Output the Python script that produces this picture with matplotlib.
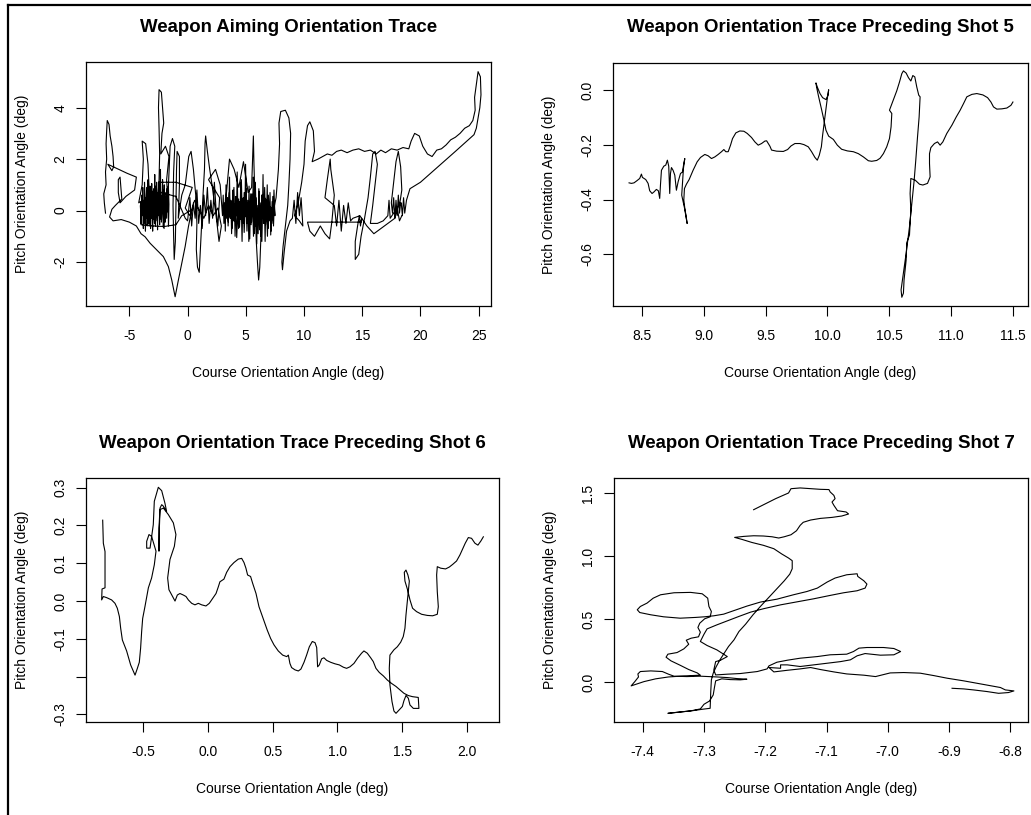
import numpy as np
import matplotlib
matplotlib.use("Agg")
import matplotlib.pyplot as plt
from matplotlib.lines import Line2D

plt.rcParams['font.family'] = ['Liberation Sans', 'DejaVu Sans']
plt.rcParams['axes.unicode_minus'] = False

W, H = 1031, 815

# ---- traces: (course deg, pitch deg) in sample order ----

# whole aiming session
aim_trace = [
    # left edge, first drift
    (-7.05, -0.10), (-7.15, 0.30), (-7.20, 0.65), (-7.00, 1.00), (-7.05, 1.50), (-6.95, 2.00),
    (-7.00, 2.60), (-6.95, 3.10), (-6.90, 3.50), (-6.75, 3.35), (-6.65, 2.90), (-6.50, 2.50),
    (-6.40, 2.10), (-6.35, 1.70), (-6.50, 1.55), (-6.85, 1.80), (-6.00, 1.62), (-5.20, 1.45),
    (-4.40, 1.30), (-4.55, 0.80), (-5.30, 0.55), (-5.80, 0.30), (-5.95, 0.70), (-5.95, 1.20),
    (-5.80, 1.30), (-5.65, 0.45), (-6.20, 0.20), (-6.50, 0.05), (-6.70, -0.25), (-6.40, -0.40),
    (-5.70, -0.35), (-5.00, -0.45), (-4.40, -0.60), (-4.00, -0.90), (-3.65, -1.02),
    # drop and recovery
    (-3.22, -1.27), (-2.65, -1.53), (-2.08, -1.79), (-1.65, -2.18), (-1.36, -2.70), (-1.07, -3.35),
    (-0.79, -2.70), (-0.50, -2.05), (-0.21, -1.40), (0.07, -0.63), (0.36, 0.03),
    (-0.50, -0.20), (-1.00, -0.55), (-2.00, -0.62), (-3.00, -0.60), (-4.00, -0.55),
    # dense jitter, first aim point
    (-4.05, 0.20), (-4.00, -0.50), (-3.95, 0.60), (-3.90, -0.20), (-3.85, 0.90), (-3.80, -0.70),
    (-3.78, 0.30), (-3.72, -0.40), (-3.70, 1.10), (-3.65, 0.00), (-3.62, -0.80), (-3.58, 0.50),
    (-3.55, -0.30), (-3.50, 0.80), (-3.47, -0.60), (-3.42, 0.20), (-3.40, 1.20), (-3.36, 0.40),
    (-3.33, -0.50), (-3.30, 0.70), (-3.26, -0.10), (-3.22, 0.95), (-3.18, -0.70), (-3.15, 0.35),
    (-3.12, -0.25), (-3.08, 1.05), (-3.05, 0.10), (-3.00, -0.80), (-2.96, 0.55), (-2.93, -0.35),
    (-2.90, 0.85), (-2.86, 0.00), (-2.82, 1.40), (-2.80, 0.20), (-2.76, -0.60), (-2.72, 0.65),
    (-2.70, -0.15), (-2.66, 1.10), (-2.62, 0.30), (-2.58, -0.75), (-2.55, 0.45), (-2.52, -0.20),
    (-2.48, 0.90), (-2.45, 0.05), (-2.40, -0.55), (-2.36, 0.75), (-2.33, 1.60), (-2.30, 0.40),
    (-2.26, -0.35), (-2.22, 0.60), (-2.18, -0.10), (-2.15, 1.20), (-2.12, 0.15), (-2.08, -0.65),
    (-2.05, 0.50), (-2.00, 1.00), (-1.96, 0.00), (-1.92, -0.45), (-1.88, 0.70), (-1.84, 0.20),
    (-1.80, -0.30), (-1.76, 0.85), (-1.72, -0.05), (-1.68, 0.40), (-1.64, -0.60), (-1.60, 0.25),
    (-1.65, 0.95), (-1.72, 0.10), (-1.80, 0.60), (-1.88, -0.20), (-1.95, 0.35), (-2.02, -0.70),
    (-2.10, 0.80), (-2.18, 0.05), (-2.25, -0.45), (-2.32, 0.55), (-2.40, 1.00), (-2.48, -0.10),
    (-2.55, 0.70), (-2.62, -0.40), (-2.70, 0.30), (-2.78, 0.95), (-2.85, -0.50), (-2.92, 0.15),
    (-3.00, 0.75), (-3.08, -0.30), (-3.15, 0.60), (-3.22, 0.05), (-3.30, -0.60), (-3.38, 0.45),
    (-3.45, -0.15), (-3.52, 0.90), (-3.60, 0.10), (-3.68, -0.50), (-3.75, 0.40), (-3.82, -0.10),
    (-3.90, 0.55), (-3.98, -0.30), (-4.05, 0.35),
    # excursions around the first aim point
    (-4.20, 0.30), (-3.90, 1.00), (-3.80, 2.00), (-3.90, 2.70), (-3.60, 2.60), (-3.40, 1.80),
    (-3.30, 0.80), (-3.10, -0.20), (-2.60, 0.20), (-2.45, 1.20), (-2.40, 2.20), (-2.45, 3.20),
    (-2.50, 4.00), (-2.45, 4.70), (-2.25, 4.60), (-2.15, 4.00), (-2.05, 3.40), (-2.20, 3.00),
    (-2.30, 2.20), (-1.90, 2.50), (-1.60, 2.10), (-1.80, 1.20), (-1.70, 0.40), (-1.50, 2.50),
    (-1.30, 2.80), (-1.10, 2.50), (-1.20, 1.50), (-1.25, 0.20), (-1.20, -1.00), (-1.15, -1.90),
    (-1.05, -1.20), (-1.00, 0.10), (-0.95, 1.60), (-0.90, 2.30), (-0.70, 2.10), (-0.70, 1.00),
    (-0.80, -0.30), (-0.50, 0.60),
    # transit between aim points
    (-0.20, 1.00), (0.10, 2.10), (0.30, 2.30), (0.50, 1.60), (0.70, 0.60), (0.80, -0.50),
    (0.75, -1.50), (0.85, -2.20), (1.00, -2.40), (1.10, -1.50), (1.20, -0.60), (1.30, 0.40),
    (1.45, 1.60), (1.50, 2.60), (1.55, 2.90), (1.70, 2.30), (1.90, 1.60), (2.10, 1.00),
    (2.30, 0.30), (2.50, -0.40), (2.70, -1.20), (2.90, -0.60), (2.60, 0.10), (2.20, -0.20),
    (1.80, 0.20), (1.40, -0.30), (1.00, 0.00), (0.60, 0.40), (0.20, -0.20), (-0.20, 0.10),
    (0.40, 0.90), (-1.00, 1.10), (-2.50, 1.10), (-2.30, 0.70), (-1.00, 0.55), (-0.20, -0.30),
    (0.00, -0.40), (0.20, 0.50), (0.35, -0.60), (0.50, 0.30), (0.65, -0.30), (0.80, 0.80),
    (0.95, -0.50), (1.10, 0.20), (1.25, -0.70), (1.40, 0.60), (1.55, -0.20), (1.70, 0.90),
    (1.85, -0.50), (2.00, 0.40), (2.15, -0.30), (2.30, 1.10), (2.45, 0.00), (2.60, -0.60),
    (2.75, 0.50), (1.80, 1.20), (2.40, 1.60), (2.80, 1.00),
    # dense jitter, second aim point
    (3.00, -0.20), (3.06, 0.60), (3.12, -0.50), (3.18, 0.30), (3.24, -0.80), (3.30, 1.00),
    (3.36, -0.10), (3.42, 0.50), (3.48, -0.60), (3.55, 0.20), (3.60, 1.30), (3.66, -0.30),
    (3.72, 0.40), (3.78, -0.90), (3.84, 0.10), (3.90, 0.80), (3.96, -0.40), (4.02, 0.25),
    (4.08, -1.00), (4.14, 0.55), (4.20, -0.20), (4.26, 1.50), (4.32, 0.00), (4.38, -0.70),
    (4.44, 0.35), (4.50, -0.35), (4.56, 1.10), (4.62, -0.10), (4.68, -1.20), (4.74, 0.45),
    (4.80, -0.50), (4.86, 0.70), (4.92, -0.25), (4.98, 1.80), (5.04, 0.15), (5.10, -0.80),
    (5.16, 0.40), (5.22, -0.40), (5.28, 0.95), (5.34, -1.10), (5.40, 0.20), (5.46, -0.55),
    (5.52, 0.65), (5.58, -0.15), (5.64, 1.30), (5.70, -0.90), (5.76, 0.10), (5.82, -0.60),
    (5.88, 0.50), (5.94, -1.30), (6.00, 0.05), (6.06, -0.45), (6.12, 0.85), (6.18, -0.75),
    (6.24, 0.30), (6.30, -1.00), (6.36, 0.60), (6.42, -0.30), (6.48, 1.40), (6.54, -0.50),
    (6.60, 0.20), (6.66, -1.20), (6.72, 0.40), (6.78, -0.20), (6.84, 1.00), (6.90, -0.70),
    (6.96, 0.25), (7.02, -0.40), (7.08, 0.70), (7.14, -0.95), (7.20, 0.10), (7.26, -0.35),
    (7.32, 0.55), (7.38, -0.60), (7.44, 0.20), (7.50, -0.20),
    (7.42, 0.80), (7.34, -0.50), (7.26, 0.35), (7.18, -0.80), (7.10, 0.15), (7.02, -0.30),
    (6.94, 0.60), (6.86, -1.00), (6.78, 0.05), (6.70, -0.55), (6.62, 0.90), (6.54, -0.25),
    (6.46, 0.30), (6.38, -1.20), (6.30, 0.15), (6.22, -0.40), (6.14, 0.75), (6.06, -0.90),
    (5.98, 0.20), (5.90, -0.35), (5.82, 1.10), (5.74, -0.15), (5.66, -1.00), (5.58, 0.40),
    (5.50, -0.45), (5.42, 0.65), (5.34, -0.20), (5.26, -1.20), (5.18, 0.30), (5.10, -0.50),
    (5.02, 0.85), (4.94, 0.00), (4.86, -0.85), (4.78, 0.50), (4.70, -0.30), (4.62, 1.20),
    (4.54, 0.10), (4.46, -0.65), (4.38, 0.45), (4.30, -0.15), (4.22, -1.05), (4.14, 0.30),
    (4.06, -0.40), (3.98, 0.90), (3.90, -0.20), (3.82, -0.70), (3.74, 0.35), (3.66, -0.25),
    (3.58, 0.70), (3.50, -0.45), (3.42, 0.15), (3.34, -0.30), (3.26, 0.50), (3.18, -0.10),
    # excursions around the second aim point
    (3.60, 2.00), (4.00, 1.60), (4.40, 0.90), (4.80, 1.90), (5.20, 0.70), (5.50, 0.90),
    (5.60, 2.30), (5.65, 2.90), (5.70, 1.80), (5.80, 0.30), (5.90, -1.20), (6.00, -2.00),
    (6.10, -2.70), (6.20, -2.20), (6.30, -1.00), (6.40, 0.60), (6.80, 0.40), (7.20, -0.40),
    (7.60, 0.50), (7.80, 1.60), (7.90, 2.60), (7.85, 3.40), (8.00, 3.85), (8.40, 3.90),
    (8.70, 3.60), (8.85, 3.00), (8.80, 2.00), (8.70, 1.00), (8.60, 0.20), (8.40, -0.60),
    (8.20, -1.40), (8.10, -2.00), (8.15, -2.30), (8.30, -1.60), (8.50, -0.80), (8.80, -0.40),
    (9.00, -0.30), (9.15, 0.40), (9.30, -0.50), (9.45, 0.70), (9.60, -0.20), (9.75, 0.50),
    (9.90, -0.60), (9.60, -0.40), (9.20, -0.20),
    # sweep right along the upper edge
    (9.50, 0.30), (9.80, 1.10), (10.00, 1.80), (10.10, 2.70), (10.30, 3.30), (10.50, 3.45),
    (10.80, 3.10), (10.90, 2.30), (10.70, 1.90), (11.20, 2.00), (11.60, 2.10), (12.00, 2.20),
    (12.40, 2.15), (12.80, 2.30), (13.20, 2.35), (13.70, 2.25), (14.20, 2.35), (14.70, 2.40),
    (15.20, 2.30), (15.70, 2.35), (16.20, 2.20), (16.60, 2.35), (17.00, 2.25), (17.50, 2.40),
    (18.00, 2.35), (18.50, 2.45), (19.00, 2.40), (19.20, 2.70), (19.50, 3.00), (19.90, 2.90),
    (20.20, 2.50), (20.60, 2.20), (21.00, 2.10), (21.40, 2.35), (21.80, 2.40), (22.20, 2.55),
    (22.60, 2.75), (23.00, 2.85), (23.40, 3.00), (23.80, 3.20), (24.20, 3.30), (24.50, 3.50),
    (24.70, 3.90), (24.65, 4.40), (24.80, 4.90), (24.95, 5.40), (25.15, 5.20), (25.20, 4.50),
    (25.10, 4.00), (24.95, 3.60), (24.80, 3.20), (24.60, 2.95),
    (23.00, 2.30), (21.50, 1.70), (20.00, 1.10), (19.10, 0.85),
    # right-hand aim points
    (18.80, 0.40), (18.65, -0.10), (18.55, 0.50), (18.45, -0.20), (18.35, 0.30), (18.20, 0.20),
    (18.40, 0.80), (18.30, 1.70), (18.10, 2.30), (17.90, 1.90), (17.70, 1.10), (17.50, 0.30),
    (17.60, -0.10), (17.70, 0.50), (17.80, -0.30), (17.90, 0.40), (18.00, -0.20), (18.10, 0.60),
    (18.20, -0.10), (18.30, 0.30), (17.40, -0.30), (17.30, 0.40), (17.20, -0.20), (16.80, -0.40),
    (16.30, -0.50), (15.70, -0.50), (15.90, 0.20), (16.10, 1.00), (16.30, 1.80), (16.10, 2.30),
    (15.90, 2.20), (15.70, 1.30), (15.50, 0.50), (15.20, -0.30), (14.90, -1.00), (14.70, -1.70),
    (14.40, -1.90), (14.40, -1.20), (14.60, -0.60), (14.75, -0.20), (14.85, -0.60), (14.95, -0.30),
    (14.90, -0.45), (13.50, -0.45), (12.00, -0.45), (10.30, -0.45),
    (10.50, -0.80), (10.90, -1.00), (11.40, -0.60), (11.80, -0.90), (12.20, -1.10), (12.40, -0.40),
    (12.60, 0.60), (12.30, 1.60), (12.25, 2.00), (12.00, 1.20), (11.80, 0.50), (12.60, 0.20),
    (12.80, -0.60), (13.00, 0.40), (13.20, -0.80), (13.40, 0.20), (13.60, -0.50), (13.80, 0.30),
    (14.00, -0.40), (14.20, -0.30), (14.80, -0.20), (15.40, -0.60), (16.00, -0.90), (16.60, -0.70),
    (17.20, -0.50), (17.80, -0.30), (18.00, 0.10), (18.20, -0.40), (18.40, -0.20),
]

# before shot 5
shot5_trace = [
    (8.395, -0.339), (8.414, -0.341), (8.435, -0.339), (8.459, -0.331), (8.481, -0.323),
    (8.495, -0.307), (8.503, -0.319), (8.530, -0.327), (8.549, -0.341), (8.562, -0.368),
    (8.581, -0.378), (8.597, -0.372), (8.616, -0.363), (8.632, -0.368), (8.643, -0.396),
    (8.649, -0.347), (8.657, -0.293), (8.676, -0.278), (8.692, -0.274), (8.705, -0.256),
    (8.716, -0.278), (8.724, -0.378), (8.730, -0.305), (8.738, -0.283), (8.751, -0.293),
    (8.765, -0.311), (8.778, -0.366), (8.792, -0.335), (8.811, -0.305), (8.827, -0.299),
    (8.838, -0.268), (8.846, -0.250), (8.835, -0.286), (8.827, -0.341), (8.821, -0.384),
    (8.838, -0.420), (8.854, -0.453), (8.865, -0.488), (8.851, -0.451), (8.838, -0.402),
    (8.843, -0.360), (8.859, -0.344), (8.881, -0.327), (8.913, -0.293), (8.946, -0.262),
    (8.973, -0.246), (9.008, -0.235), (9.035, -0.240), (9.062, -0.250), (9.089, -0.244),
    (9.116, -0.235), (9.143, -0.225), (9.162, -0.217), (9.178, -0.225), (9.197, -0.225),
    (9.216, -0.201), (9.232, -0.177), (9.259, -0.156), (9.291, -0.149), (9.324, -0.150),
    (9.351, -0.158), (9.386, -0.173), (9.413, -0.189), (9.440, -0.201), (9.467, -0.195),
    (9.494, -0.186), (9.508, -0.185), (9.521, -0.195), (9.535, -0.205), (9.548, -0.219),
    (9.589, -0.223), (9.643, -0.224), (9.678, -0.217), (9.705, -0.204), (9.737, -0.195),
    (9.778, -0.195), (9.810, -0.199), (9.845, -0.207), (9.872, -0.225), (9.899, -0.246),
    (9.918, -0.256), (9.934, -0.238), (9.951, -0.207), (9.961, -0.165), (9.975, -0.116),
    (9.988, -0.073), (9.999, -0.030), (10.010, 0.002), (10.005, -0.018), (9.988, -0.034),
    (9.961, -0.027), (9.940, -0.012), (9.918, 0.012), (9.907, 0.027), (9.913, 0.010),
    (9.929, -0.024), (9.951, -0.067), (9.972, -0.110), (9.988, -0.146), (10.010, -0.168),
    (10.048, -0.180), (10.080, -0.201), (10.115, -0.216), (10.161, -0.222), (10.210, -0.225),
    (10.250, -0.232), (10.291, -0.244), (10.331, -0.258), (10.358, -0.260), (10.399, -0.257),
    (10.426, -0.249), (10.453, -0.232), (10.480, -0.207), (10.502, -0.177), (10.515, -0.134),
    (10.521, -0.085), (10.502, -0.073), (10.512, -0.061), (10.534, -0.034), (10.561, -0.002),
    (10.583, 0.030), (10.602, 0.061), (10.615, 0.071), (10.637, 0.063), (10.656, 0.046),
    (10.675, 0.034), (10.691, 0.054), (10.707, 0.049), (10.723, 0.012), (10.739, -0.018),
    (10.750, -0.024), (10.742, -0.098), (10.729, -0.171), (10.715, -0.256), (10.702, -0.329),
    (10.683, -0.414), (10.664, -0.500), (10.637, -0.597), (10.615, -0.670), (10.596, -0.731),
    (10.602, -0.758), (10.615, -0.743), (10.620, -0.695), (10.637, -0.622), (10.642, -0.558),
    (10.664, -0.530), (10.675, -0.439), (10.669, -0.378), (10.675, -0.323), (10.710, -0.329),
    (10.745, -0.344), (10.772, -0.347), (10.810, -0.341), (10.831, -0.317), (10.826, -0.268),
    (10.826, -0.232), (10.837, -0.210), (10.866, -0.195), (10.891, -0.189), (10.912, -0.201),
    (10.934, -0.189), (10.966, -0.158), (11.007, -0.128), (11.042, -0.098), (11.074, -0.073),
    (11.101, -0.049), (11.128, -0.024), (11.169, -0.015), (11.209, -0.012), (11.258, -0.017),
    (11.296, -0.027), (11.323, -0.043), (11.344, -0.061), (11.371, -0.069), (11.412, -0.068),
    (11.452, -0.065), (11.485, -0.055), (11.501, -0.043),
]

# before shot 6
shot6_trace = [
    (-0.814, 0.214), (-0.809, 0.153), (-0.796, 0.131), (-0.796, 0.035), (-0.819, 0.032),
    (-0.822, 0.003), (-0.809, 0.012), (-0.783, 0.009), (-0.745, 0.003), (-0.719, -0.006),
    (-0.701, -0.019), (-0.685, -0.041), (-0.675, -0.072), (-0.662, -0.103), (-0.642, -0.121),
    (-0.629, -0.132), (-0.613, -0.151), (-0.598, -0.169), (-0.582, -0.182), (-0.564, -0.196),
    (-0.546, -0.178), (-0.531, -0.162), (-0.521, -0.125), (-0.513, -0.081), (-0.505, -0.046),
    (-0.487, -0.014), (-0.461, 0.035), (-0.436, 0.061), (-0.415, 0.096), (-0.402, 0.132),
    (-0.436, 0.171), (-0.456, 0.176), (-0.474, 0.158), (-0.474, 0.140), (-0.448, 0.140),
    (-0.423, 0.202), (-0.415, 0.264), (-0.384, 0.301), (-0.358, 0.292), (-0.333, 0.259),
    (-0.320, 0.237), (-0.345, 0.251), (-0.358, 0.255), (-0.371, 0.246), (-0.379, 0.193),
    (-0.379, 0.132), (-0.376, 0.193), (-0.371, 0.242), (-0.345, 0.246), (-0.307, 0.229),
    (-0.268, 0.207), (-0.248, 0.176), (-0.260, 0.145), (-0.294, 0.110), (-0.312, 0.061),
    (-0.302, 0.030), (-0.268, 0.008), (-0.255, 0.000), (-0.237, 0.016), (-0.217, 0.020),
    (-0.191, 0.016), (-0.170, 0.012), (-0.152, 0.003), (-0.126, -0.006), (-0.101, -0.010),
    (-0.075, -0.006), (-0.049, -0.010), (-0.016, -0.013), (0.010, -0.006), (0.036, 0.007),
    (0.062, 0.020), (0.080, 0.038), (0.092, 0.051), (0.123, 0.058), (0.144, 0.076),
    (0.170, 0.091), (0.201, 0.102), (0.234, 0.111), (0.260, 0.113), (0.278, 0.102),
    (0.293, 0.087), (0.306, 0.069), (0.329, 0.065), (0.345, 0.047), (0.371, 0.020),
    (0.394, -0.015), (0.417, -0.037), (0.435, -0.055), (0.458, -0.077), (0.484, -0.099),
    (0.510, -0.116), (0.543, -0.132), (0.577, -0.143), (0.608, -0.147), (0.621, -0.143),
    (0.633, -0.165), (0.646, -0.176), (0.672, -0.182), (0.698, -0.185), (0.718, -0.180),
    (0.742, -0.162), (0.762, -0.143), (0.783, -0.121), (0.806, -0.107), (0.827, -0.110),
    (0.840, -0.123), (0.847, -0.174), (0.860, -0.169), (0.878, -0.153), (0.896, -0.150),
    (0.917, -0.157), (0.948, -0.162), (0.981, -0.166), (1.015, -0.169), (1.046, -0.175),
    (1.071, -0.178), (1.097, -0.174), (1.128, -0.165), (1.156, -0.151), (1.187, -0.138),
    (1.205, -0.132), (1.231, -0.138), (1.257, -0.150), (1.277, -0.160), (1.298, -0.178),
    (1.324, -0.189), (1.355, -0.198), (1.386, -0.209), (1.419, -0.218), (1.453, -0.226),
    (1.484, -0.235), (1.514, -0.244), (1.548, -0.250), (1.581, -0.253), (1.625, -0.255),
    (1.630, -0.284), (1.587, -0.284), (1.561, -0.275), (1.548, -0.257), (1.530, -0.250),
    (1.514, -0.264), (1.502, -0.279), (1.478, -0.288), (1.453, -0.297), (1.437, -0.291),
    (1.422, -0.266), (1.406, -0.222), (1.401, -0.178), (1.406, -0.143), (1.437, -0.129),
    (1.463, -0.121), (1.489, -0.109), (1.509, -0.094), (1.522, -0.072), (1.530, -0.037),
    (1.540, -0.002), (1.550, 0.033), (1.556, 0.053), (1.545, 0.069), (1.530, 0.082),
    (1.517, 0.076), (1.522, 0.053), (1.543, 0.029), (1.561, 0.003), (1.581, -0.019),
    (1.612, -0.028), (1.651, -0.035), (1.695, -0.038), (1.736, -0.039), (1.772, -0.035),
    (1.780, -0.015), (1.772, 0.025), (1.767, 0.069), (1.772, 0.091), (1.798, 0.087),
    (1.836, 0.085), (1.865, 0.090), (1.891, 0.097), (1.921, 0.106), (1.947, 0.122),
    (1.968, 0.138), (1.988, 0.153), (2.012, 0.168), (2.037, 0.166), (2.063, 0.153),
    (2.086, 0.148), (2.109, 0.159), (2.128, 0.170),
]

# before shot 7
shot7_trace = [
    (-7.219, 1.371), (-7.208, 1.398), (-7.194, 1.432), (-7.183, 1.459), (-7.171, 1.485),
    (-7.162, 1.504), (-7.158, 1.538), (-7.143, 1.544), (-7.126, 1.538), (-7.110, 1.533),
    (-7.096, 1.531), (-7.094, 1.512), (-7.088, 1.485), (-7.086, 1.459), (-7.091, 1.432),
    (-7.088, 1.406), (-7.082, 1.363), (-7.068, 1.353), (-7.064, 1.337), (-7.075, 1.321),
    (-7.091, 1.310), (-7.110, 1.302), (-7.126, 1.289), (-7.138, 1.271), (-7.143, 1.247),
    (-7.149, 1.204), (-7.158, 1.172), (-7.169, 1.156), (-7.178, 1.146), (-7.189, 1.156),
    (-7.203, 1.162), (-7.219, 1.164), (-7.235, 1.159), (-7.250, 1.151), (-7.238, 1.135),
    (-7.222, 1.111), (-7.203, 1.088), (-7.186, 1.061), (-7.173, 1.019), (-7.162, 0.987),
    (-7.156, 0.966), (-7.156, 0.902), (-7.160, 0.859), (-7.169, 0.806), (-7.181, 0.743),
    (-7.194, 0.674), (-7.208, 0.602), (-7.220, 0.536), (-7.232, 0.462), (-7.243, 0.403),
    (-7.251, 0.337), (-7.260, 0.284), (-7.267, 0.231), (-7.274, 0.178), (-7.280, 0.125),
    (-7.285, 0.072), (-7.288, 0.019), (-7.289, -0.074), (-7.290, -0.207), (-7.303, -0.215),
    (-7.317, -0.225), (-7.333, -0.233), (-7.348, -0.241), (-7.359, -0.247), (-7.343, -0.239),
    (-7.322, -0.228), (-7.306, -0.212), (-7.300, -0.175), (-7.291, -0.149), (-7.285, -0.101),
    (-7.283, -0.042), (-7.281, 0.011), (-7.271, 0.027), (-7.257, 0.021), (-7.241, 0.019),
    (-7.230, 0.024), (-7.246, 0.029), (-7.262, 0.037), (-7.279, 0.042), (-7.306, 0.048),
    (-7.328, 0.045), (-7.349, 0.048), (-7.358, 0.064), (-7.368, 0.085), (-7.387, 0.090),
    (-7.404, 0.085), (-7.408, 0.066), (-7.407, 0.042), (-7.413, 0.005), (-7.419, -0.029),
    (-7.414, -0.021), (-7.398, 0.005), (-7.379, 0.027), (-7.358, 0.042), (-7.333, 0.050),
    (-7.306, 0.056), (-7.311, 0.074), (-7.325, 0.101), (-7.339, 0.135), (-7.354, 0.170),
    (-7.362, 0.199), (-7.359, 0.223), (-7.344, 0.236), (-7.333, 0.265), (-7.325, 0.302),
    (-7.329, 0.334), (-7.321, 0.350), (-7.309, 0.361), (-7.306, 0.398), (-7.310, 0.435),
    (-7.307, 0.469), (-7.299, 0.504), (-7.290, 0.520), (-7.288, 0.562), (-7.292, 0.602),
    (-7.294, 0.668), (-7.303, 0.703), (-7.322, 0.714), (-7.349, 0.711), (-7.371, 0.695),
    (-7.383, 0.668), (-7.393, 0.629), (-7.404, 0.602), (-7.409, 0.576), (-7.405, 0.554),
    (-7.387, 0.536), (-7.366, 0.520), (-7.339, 0.509), (-7.314, 0.515), (-7.299, 0.520),
    (-7.284, 0.528), (-7.268, 0.541), (-7.251, 0.570), (-7.230, 0.605), (-7.208, 0.637),
    (-7.181, 0.660), (-7.154, 0.695), (-7.132, 0.721), (-7.115, 0.748), (-7.099, 0.796),
    (-7.086, 0.828), (-7.067, 0.854), (-7.050, 0.862), (-7.049, 0.841), (-7.039, 0.806),
    (-7.034, 0.780), (-7.037, 0.748), (-7.050, 0.727), (-7.072, 0.711), (-7.094, 0.690),
    (-7.121, 0.663), (-7.148, 0.639), (-7.175, 0.615), (-7.203, 0.584), (-7.224, 0.557),
    (-7.243, 0.523), (-7.260, 0.491), (-7.279, 0.456), (-7.295, 0.424), (-7.300, 0.382),
    (-7.306, 0.324), (-7.295, 0.292), (-7.279, 0.257), (-7.262, 0.204), (-7.273, 0.175),
    (-7.281, 0.164), (-7.284, 0.098), (-7.281, 0.058), (-7.262, 0.064), (-7.241, 0.069),
    (-7.213, 0.085), (-7.197, 0.106), (-7.194, 0.130), (-7.181, 0.159), (-7.164, 0.175),
    (-7.143, 0.191), (-7.115, 0.204), (-7.094, 0.218), (-7.067, 0.223), (-7.056, 0.244),
    (-7.047, 0.271), (-7.034, 0.276), (-7.007, 0.276), (-6.990, 0.268), (-6.979, 0.244),
    (-6.990, 0.218), (-7.012, 0.215), (-7.037, 0.228), (-7.050, 0.210), (-7.061, 0.178),
    (-7.077, 0.164), (-7.099, 0.151), (-7.121, 0.138), (-7.143, 0.125), (-7.164, 0.138),
    (-7.175, 0.138), (-7.175, 0.111), (-7.194, 0.117), (-7.186, 0.082), (-7.164, 0.095),
    (-7.143, 0.106), (-7.126, 0.117), (-7.110, 0.101), (-7.088, 0.082), (-7.067, 0.066),
    (-7.039, 0.056), (-7.020, 0.045), (-7.009, 0.058), (-6.996, 0.074), (-6.974, 0.077),
    (-6.947, 0.072), (-6.925, 0.053), (-6.903, 0.032), (-6.876, 0.011), (-6.854, -0.008),
    (-6.833, -0.027), (-6.816, -0.042), (-6.808, -0.061), (-6.794, -0.069), (-6.803, -0.082),
    (-6.819, -0.088), (-6.838, -0.074), (-6.860, -0.061), (-6.876, -0.053), (-6.895, -0.048),
]

titles = [
    "Weapon Aiming Orientation Trace",
    "Weapon Orientation Trace Preceding Shot 5",
    "Weapon Orientation Trace Preceding Shot 6",
    "Weapon Orientation Trace Preceding Shot 7",
]
x_title = "Course Orientation Angle (deg)"
y_title = "Pitch Orientation Angle (deg)"

aim_xticks = [-5, 0, 5, 10, 15, 20, 25]
aim_xlabels = ["-5", "0", "5", "10", "15", "20", "25"]
aim_yticks = [-2, 0, 2, 4]
aim_ylabels = ["-2", "0", "2", "4"]

shot5_xticks = [8.5, 9.0, 9.5, 10.0, 10.5, 11.0, 11.5]
shot5_xlabels = ["8.5", "9.0", "9.5", "10.0", "10.5", "11.0", "11.5"]
shot5_yticks = [-0.6, -0.4, -0.2, 0.0]
shot5_ylabels = ["-0.6", "-0.4", "-0.2", "0.0"]

shot6_xticks = [-0.5, 0.0, 0.5, 1.0, 1.5, 2.0]
shot6_xlabels = ["-0.5", "0.0", "0.5", "1.0", "1.5", "2.0"]
shot6_yticks = [-0.3, -0.2, -0.1, 0.0, 0.1, 0.2, 0.3]
shot6_ylabels = ["-0.3", "", "-0.1", "0.0", "0.1", "0.2", "0.3"]  # -0.2 dropped (overlap)

shot7_xticks = [-7.4, -7.3, -7.2, -7.1, -7.0, -6.9, -6.8]
shot7_xlabels = ["-7.4", "-7.3", "-7.2", "-7.1", "-7.0", "-6.9", "-6.8"]
shot7_yticks = [0.0, 0.5, 1.0, 1.5]
shot7_ylabels = ["0.0", "0.5", "1.0", "1.5"]

# plot regions in pixels: left, top, right, bottom
boxes = [(86, 62, 491, 306), (613, 63, 1028, 306), (86, 478, 499, 722), (614, 478, 1028, 722)]
limits = [
    ((-8.725, 26.06), (-3.710, 5.775)),
    ((8.265, 11.623), (-0.790, 0.0999)),
    ((-0.943, 2.249), (-0.320, 0.3256)),
    ((-7.447, -6.771), (-0.316, 1.623)),
]


def draw_panel(fig, box, trace, title, lims, xt, xl, yt, yl):
    left, top, right, bottom = box
    w, h = right - left, bottom - top
    ax = fig.add_axes([left / W, 1 - bottom / H, w / W, h / H])
    pts = np.array(trace)
    ax.plot(pts[:, 0], pts[:, 1], color="black", lw=0.8, solid_joinstyle="round")
    ax.set_xlim(*lims[0])
    ax.set_ylim(*lims[1])
    ax.set_xticks(xt)
    ax.set_xticklabels(xl)
    ax.set_yticks(yt)
    # y labels run along the axis, as in base R
    ax.set_yticklabels(yl, rotation=90, rotation_mode="anchor", ha="center", va="baseline")
    ax.tick_params(direction="out", length=7.2, width=0.8, labelsize=10, color="black")
    ax.tick_params(axis="x", pad=9)
    ax.tick_params(axis="y", pad=8.5)
    for s in ax.spines.values():
        s.set_linewidth(0.9)
        s.set_color("black")
    ax.set_xlabel(x_title, fontsize=10)
    ax.xaxis.set_label_coords(0.5, -67 / h)
    ax.xaxis.label.set_va("center")
    ax.set_ylabel(y_title, fontsize=10)
    ax.yaxis.set_label_coords(-64 / w, 0.5)
    ax.yaxis.label.set_va("center")
    ax.text(0.5, 1 + 35 / h, title, transform=ax.transAxes, ha="center", va="center",
            fontsize=13.4, fontweight="bold")
    return ax


fig = plt.figure(figsize=(W / 100, H / 100), dpi=100)

draw_panel(fig, boxes[0], aim_trace, titles[0], limits[0], aim_xticks, aim_xlabels, aim_yticks, aim_ylabels)
draw_panel(fig, boxes[1], shot5_trace, titles[1], limits[1], shot5_xticks, shot5_xlabels, shot5_yticks, shot5_ylabels)
draw_panel(fig, boxes[2], shot6_trace, titles[2], limits[2], shot6_xticks, shot6_xlabels, shot6_yticks, shot6_ylabels)
draw_panel(fig, boxes[3], shot7_trace, titles[3], limits[3], shot7_xticks, shot7_xlabels, shot7_yticks, shot7_ylabels)

# frame along the top and left edge
fig.add_artist(Line2D([8 / W, 8 / W], [0, 1 - 5 / H], color="black", lw=1.6))
fig.add_artist(Line2D([8 / W, 1], [1 - 5 / H, 1 - 5 / H], color="black", lw=1.6))

fig.savefig("out.png", dpi=100)
